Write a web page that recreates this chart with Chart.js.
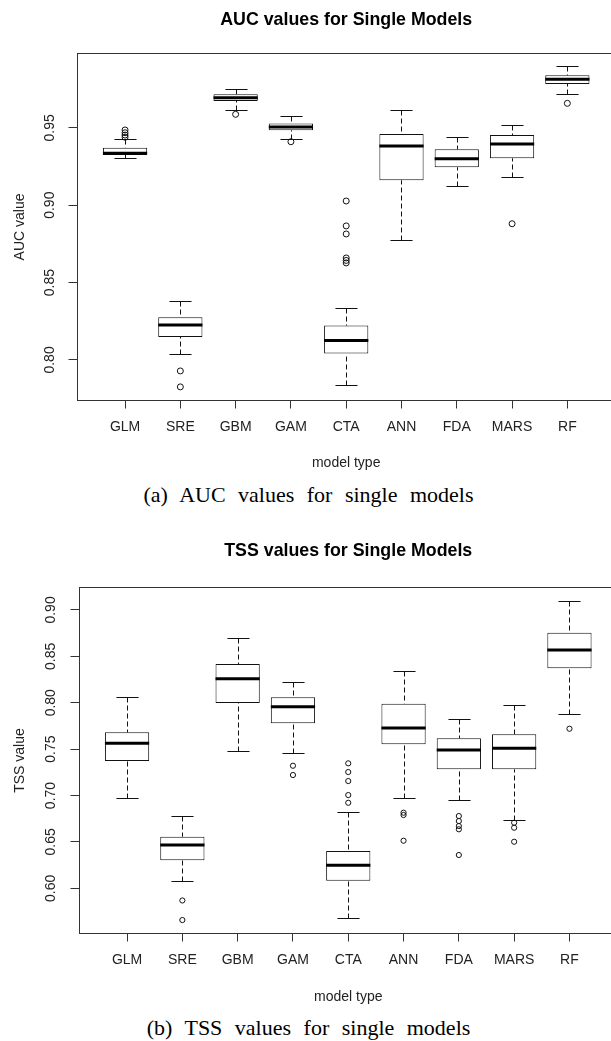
<!DOCTYPE html>
<html>
<head>
<meta charset="utf-8">
<script src="https://cdn.jsdelivr.net/npm/chart.js@4.4.1/dist/chart.umd.min.js"></script>
<style>
  html, body { margin: 0; padding: 0; background: #fff; overflow: hidden; width: 611px; height: 1041px; }
  .panel { position: absolute; left: 0; }
  .caption {
    position: absolute; left: 0; width: 617px; text-align: center;
    font-family: 'Liberation Serif', 'Times New Roman', serif; font-size: 22px;
    line-height: 22px; word-spacing: 7px; color: #000; white-space: nowrap;
  }
</style>
</head>
<body>
<canvas id="auc" class="panel" width="640" height="480" style="top:0"></canvas>
<div class="caption" style="top:484px">(a) AUC values for single models</div>
<canvas id="tss" class="panel" width="640" height="480" style="top:530px"></canvas>
<div class="caption" style="top:1017px">(b) TSS values for single models</div>

<script>
const categories = ['GLM', 'SRE', 'GBM', 'GAM', 'CTA', 'ANN', 'FDA', 'MARS', 'RF'];

// AUC boxplots: whisker ends, quartiles, median, outliers
const aucLow  = [0.9307, 0.8037, 0.9615, 0.9430, 0.7838, 0.8777, 0.9126, 0.9180, 0.9718];
const aucQ1   = [0.9324, 0.8149, 0.9673, 0.9484, 0.8041, 0.9161, 0.9245, 0.9303, 0.9783];
const aucMed  = [0.9335, 0.8226, 0.9694, 0.9505, 0.8125, 0.9382, 0.9300, 0.9395, 0.9813];
const aucQ3   = [0.9371, 0.8276, 0.9716, 0.9527, 0.8222, 0.9460, 0.9361, 0.9453, 0.9839];
const aucHigh = [0.9426, 0.8383, 0.9753, 0.9578, 0.8336, 0.9615, 0.9441, 0.9518, 0.9897];
const aucOut  = [[0.9486, 0.9468, 0.9453, 0.9439], [0.7929, 0.7826], [0.9587], [0.9410],
                 [0.9027, 0.8866, 0.8814, 0.8659, 0.8643, 0.8627], [], [], [0.8880], [0.9658]];
const aucTicks = [0.80, 0.85, 0.90, 0.95];

// TSS boxplots
const tssLow  = [0.6973, 0.6079, 0.7483, 0.7461, 0.5683, 0.6973, 0.6952, 0.6736, 0.7878];
const tssQ1   = [0.7372, 0.6302, 0.7997, 0.7778, 0.6082, 0.7552, 0.7282, 0.7282, 0.8371];
const tssMed  = [0.7563, 0.6467, 0.8259, 0.7957, 0.6248, 0.7727, 0.7490, 0.7509, 0.8568];
const tssQ3   = [0.7681, 0.6556, 0.8417, 0.8058, 0.6402, 0.7989, 0.7616, 0.7660, 0.8754];
const tssHigh = [0.8058, 0.6776, 0.8697, 0.8226, 0.6822, 0.8345, 0.7828, 0.7978, 0.9099];
const tssOut  = [[], [0.5869, 0.5658], [], [0.7321, 0.7221], [0.7347, 0.7253, 0.7156, 0.7005, 0.6922],
                 [0.6815, 0.6790, 0.6513], [0.6779, 0.6725, 0.6671, 0.6636, 0.6359],
                 [0.6707, 0.6653, 0.6502], [0.7720]];
const tssTicks = [0.60, 0.65, 0.70, 0.75, 0.80, 0.85, 0.90];

Chart.defaults.font.family = "'Liberation Sans', Arial, sans-serif";
const INK = '#111';
const TEXT = '#222';
const BOX_W = 0.8, STAPLE_W = 0.4;

function boxChart(id, title, yTitle, st, yTicks, g) {
  const boxes = categories.map((c, i) => ({ x: i + 1, y: [st.q1[i], st.q3[i]] }));
  const outliers = st.out.flatMap((vals, i) => vals.map(v => ({ x: i + 1, y: v })));

  const extras = {
    id: 'boxExtras',
    beforeDatasetsDraw(chart) {
      const { ctx, scales: { x, y } } = chart;
      ctx.save();
      ctx.strokeStyle = INK;
      ctx.lineWidth = 1;
      categories.forEach((c, i) => {
        const cx = Math.round(x.getPixelForValue(i + 1)) + 0.5;
        const half = x.getPixelForValue(i + 1 + STAPLE_W / 2) - x.getPixelForValue(i + 1);
        [[st.high[i], st.q3[i]], [st.low[i], st.q1[i]]].forEach(([end, edge]) => {
          const ye = Math.round(y.getPixelForValue(end)) + 0.5;
          ctx.setLineDash([5, 3]);
          ctx.beginPath(); ctx.moveTo(cx, ye); ctx.lineTo(cx, y.getPixelForValue(edge)); ctx.stroke();
          ctx.setLineDash([]);
          ctx.beginPath(); ctx.moveTo(cx - half, ye); ctx.lineTo(cx + half, ye); ctx.stroke();
        });
      });
      ctx.restore();
    },
    afterDatasetsDraw(chart) {
      const { ctx, scales: { x, y } } = chart;
      ctx.save();
      ctx.strokeStyle = '#000';
      ctx.lineWidth = 3;
      st.med.forEach((m, i) => {
        const ym = y.getPixelForValue(m);
        ctx.beginPath();
        ctx.moveTo(x.getPixelForValue(i + 1 - BOX_W / 2), ym);
        ctx.lineTo(x.getPixelForValue(i + 1 + BOX_W / 2), ym);
        ctx.stroke();
      });
      ctx.restore();
    },
    afterDraw(chart) {
      const { ctx, chartArea: a, scales: { y } } = chart;
      ctx.save();
      ctx.strokeStyle = '#333';
      ctx.lineWidth = 1;
      ctx.strokeRect(a.left, a.top, a.right - a.left, a.bottom - a.top);

      ctx.fillStyle = TEXT;
      ctx.textAlign = 'center';
      ctx.textBaseline = 'middle';
      ctx.font = "14px 'Liberation Sans', Arial, sans-serif";
      y.ticks.forEach(t => {
        ctx.save();
        ctx.translate(g.tickLabelX, y.getPixelForValue(t.value));
        ctx.rotate(-Math.PI / 2);
        ctx.fillText(t.label, 0, 0);
        ctx.restore();
      });
      ctx.save();
      ctx.translate(g.yTitleX, (a.top + a.bottom) / 2);
      ctx.rotate(-Math.PI / 2);
      ctx.fillText(yTitle, 0, 0);
      ctx.restore();
      ctx.fillText('model type', (a.left + a.right) / 2, a.bottom + g.xTitleDy);
      ctx.restore();
    }
  };

  return new Chart(document.getElementById(id), {
    type: 'bar',
    data: {
      datasets: [
        {
          type: 'scatter',
          data: outliers,
          pointRadius: g.pointR,
          pointBorderWidth: 1,
          pointBorderColor: INK,
          pointBackgroundColor: 'rgba(0,0,0,0)'
        },
        {
          data: boxes,
          backgroundColor: '#fff',
          borderColor: INK,
          borderWidth: 1,
          borderSkipped: false,
          categoryPercentage: 1,
          barPercentage: BOX_W
        }
      ]
    },
    options: {
      responsive: false,
      animation: false,
      events: [],
      layout: { padding: { left: 0, top: 0, right: g.width - g.right, bottom: 0 } },
      plugins: {
        legend: { display: false },
        tooltip: { enabled: false },
        title: {
          display: true,
          text: title,
          fullSize: false,
          color: '#000',
          font: { size: 17.8, weight: 'bold' },
          padding: { top: g.titleTop, bottom: g.titleBottom }
        }
      },
      scales: {
        x: {
          type: 'linear',
          min: 0.14,
          max: 9.86,
          offset: false,
          afterBuildTicks: s => { s.ticks = categories.map((c, i) => ({ value: i + 1 })); },
          afterFit: s => { s.height = g.height - g.bottom; },
          ticks: {
            autoSkip: false, maxRotation: 0, padding: 9.8,
            color: TEXT, font: { size: 14 },
            callback: v => categories[v - 1]
          },
          grid: { offset: false, drawOnChartArea: false, drawTicks: true, tickLength: 8, color: '#333' },
          border: { display: false }
        },
        y: {
          type: 'linear',
          min: g.yMin,
          max: g.yMax,
          afterBuildTicks: s => { s.ticks = yTicks.map(v => ({ value: v })); },
          afterFit: s => { s.width = g.left; },
          ticks: { display: false, callback: v => v.toFixed(2) },
          grid: { drawOnChartArea: false, drawTicks: true, tickLength: 9, color: '#333' },
          border: { display: false }
        }
      }
    },
    plugins: [extras]
  });
}

boxChart('auc', 'AUC values for Single Models', 'AUC value',
  { low: aucLow, q1: aucQ1, med: aucMed, q3: aucQ3, high: aucHigh, out: aucOut }, aucTicks,
  { width: 640, height: 480, left: 77.5, right: 614.9, bottom: 400.5,
    titleTop: 9.3, titleBottom: 22.84, yMin: 0.7738, yMax: 0.998,
    tickLabelX: 50, yTitleX: 20, xTitleDy: 62.8, pointR: 3 });

boxChart('tss', 'TSS values for Single Models', 'TSS value',
  { low: tssLow, q1: tssQ1, med: tssMed, q3: tssQ3, high: tssHigh, out: tssOut }, tssTicks,
  { width: 640, height: 480, left: 79.5, right: 617, bottom: 403.5,
    titleTop: 10.8, titleBottom: 25.34, yMin: 0.5513, yMax: 0.9242,
    tickLabelX: 51, yTitleX: 20, xTitleDy: 63.5, pointR: 2.6 });
</script>
</body>
</html>
